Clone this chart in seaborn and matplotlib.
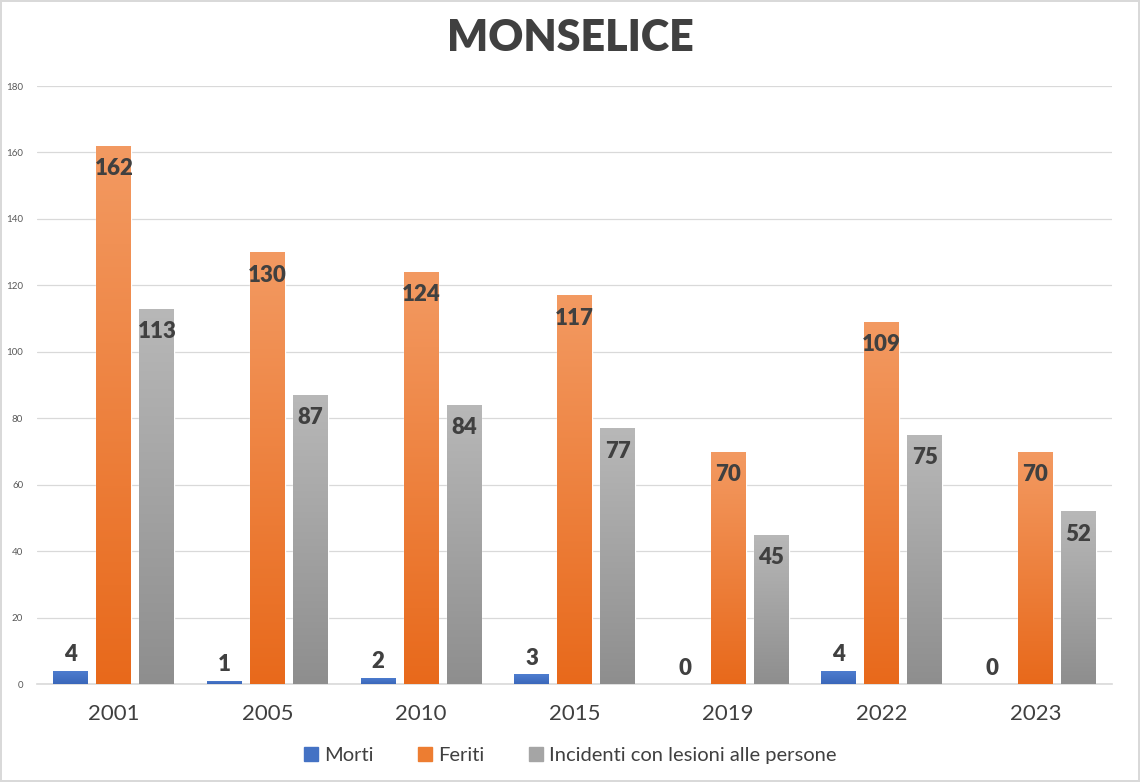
import numpy as np
import pandas as pd
import seaborn as sns
import matplotlib.pyplot as plt
from matplotlib.colors import LinearSegmentedColormap
from matplotlib.patches import Rectangle

# data
anni = ['2001', '2005', '2010', '2015', '2019', '2022', '2023']
morti = [4, 1, 2, 3, 0, 4, 0]
feriti = [162, 130, 124, 117, 70, 109, 70]
incidenti = [113, 87, 84, 77, 45, 75, 52]
serie = ['Morti', 'Feriti', 'Incidenti con lesioni alle persone']

df = pd.DataFrame({'anno': anni * 3,
                   'valore': morti + feriti + incidenti,
                   'serie': [s for s in serie for _ in anni]})

sns.set_style('white')
plt.rcParams['font.family'] = ['Lato', 'DejaVu Sans']

colori = {'Morti': '#4472C4', 'Feriti': '#ED7D31',
          'Incidenti con lesioni alle persone': '#A5A5A5'}
# gradient (bottom, top)
gradienti = {'Morti': ('#3A67BA', '#4F7ED0'),
             'Feriti': ('#E8691B', '#F39A62'),
             'Incidenti con lesioni alle persone': ('#8E8E8E', '#B8B8B8')}

fig = plt.figure(figsize=(11.4, 7.82), dpi=100)
fig.patch.set_edgecolor('#D9D9D9')
fig.patch.set_linewidth(1.5)
ax = fig.add_axes([0.0325, 0.125, 0.943, 0.765])

sns.barplot(data=df, x='anno', y='valore', hue='serie', palette=colori,
            width=0.84, gap=0.19, ax=ax, legend=False, zorder=2)

ax.set_ylim(0, 180)
ax.set_yticks(range(0, 181, 20))
ax.grid(axis='y', color='#D9D9D9', linewidth=0.9, zorder=0)
ax.set_axisbelow(True)
for s in ['top', 'right', 'left']:
    ax.spines[s].set_visible(False)
ax.spines['bottom'].set_color('#D9D9D9')
ax.spines['bottom'].set_linewidth(1.2)
ax.tick_params(axis='y', labelsize=7, labelcolor='#595959', length=0, pad=10)
ax.tick_params(axis='x', labelsize=16, labelcolor='#404040', length=0, pad=14)
ax.set_xlabel('')
ax.set_ylabel('')

# gradient fill clipped to each bar
for cont, nome in zip(ax.containers, serie):
    cmap = LinearSegmentedColormap.from_list(nome, gradienti[nome])
    grad = np.linspace(0, 1, 256).reshape(-1, 1)
    for p in cont.patches:
        x0, y0 = p.get_x(), p.get_y()
        w, h = p.get_width(), p.get_height()
        if h <= 0:
            continue
        im = ax.imshow(grad, cmap=cmap, origin='lower', aspect='auto',
                       extent=(x0, x0 + w, y0, y0 + h), zorder=3)
        im.set_clip_path(p)
    ax.set_xlim(-0.5, len(anni) - 0.5)

# value labels
for cont, nome in zip(ax.containers, serie):
    if nome == 'Morti':
        ax.bar_label(cont, padding=4, fontsize=16, fontweight='heavy',
                     color='#404040', zorder=4)
    else:
        labs = ax.bar_label(cont, padding=-24, fontsize=16, fontweight='heavy',
                            color='#404040')
        for t in labs:
            t.set_zorder(5)

fig.suptitle('MONSELICE', fontsize=31, fontweight='heavy', color='#404040',
             y=0.977)

handles = [Rectangle((0, 0), 1, 1, color=colori[s]) for s in serie]
fig.legend(handles, serie, loc='lower center', ncol=3, frameon=False,
           fontsize=14.5, handlelength=0.7, handleheight=0.7, handletextpad=0.3,
           columnspacing=2.2, labelcolor='#404040', bbox_to_anchor=(0.5, 0.0))

plt.savefig('out.png', dpi=100)
